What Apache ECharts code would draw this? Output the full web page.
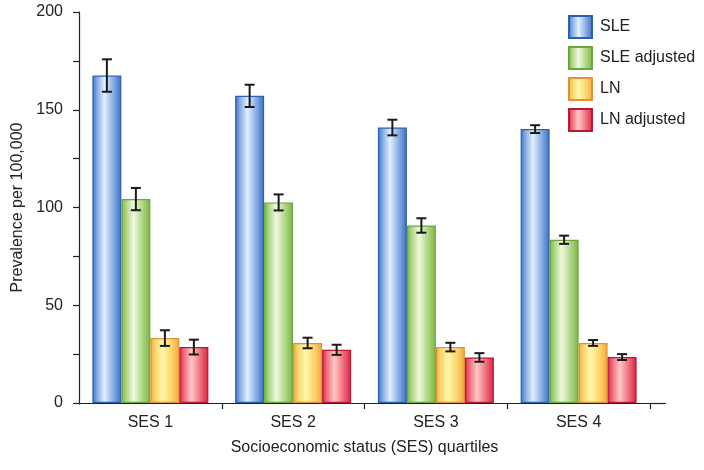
<!DOCTYPE html>
<html>
<head>
<meta charset="utf-8">
<script src="https://cdn.jsdelivr.net/npm/echarts@6/dist/echarts.min.js"></script>
<style>html,body{margin:0;padding:0;background:#fff}#c{width:704px;height:470px}</style>
</head>
<body>
<div id="c"></div>
<script>
var categories = ['SES 1', 'SES 2', 'SES 3', 'SES 4'];
var seriesNames = ['SLE', 'SLE adjusted', 'LN', 'LN adjusted'];
var sle = [167.5, 157.1, 140.9, 140.1];
var sleErr = [8.3, 5.7, 4.0, 2.0];
var sleAdj = [104.3, 102.6, 90.8, 83.5];
var sleAdjErr = [5.7, 4.1, 3.7, 2.1];
var ln = [33.2, 30.7, 28.6, 30.7];
var lnErr = [4.0, 2.7, 2.2, 1.5];
var lnAdj = [28.6, 27.2, 23.3, 23.5];
var lnAdjErr = [3.8, 2.6, 2.2, 1.5];
var yTicks = [0, 50, 100, 150, 200];

var values = [sle, sleAdj, ln, lnAdj];
var errors = [sleErr, sleAdjErr, lnErr, lnAdjErr];

var palettes = [
  {dark: '#3a6ec0', mid: '#7fa7e0', light: '#e0f0ff', border: '#2c61b2'},
  {dark: '#7bb446', mid: '#a9d37c', light: '#eff8e3', border: '#6aa63b'},
  {dark: '#f3a638', mid: '#fbd26a', light: '#fff7aa', border: '#e0923a'},
  {dark: '#d8223e', mid: '#ee6878', light: '#ffc8c6', border: '#bb1736'}
];
function grad(p) {
  return new echarts.graphic.LinearGradient(0, 0, 1, 0, [
    {offset: 0, color: p.dark},
    {offset: 0.15, color: p.mid},
    {offset: 0.42, color: p.light},
    {offset: 0.75, color: p.mid},
    {offset: 1, color: p.dark}
  ]);
}

var BAR_W = 29;
var series = [];
seriesNames.forEach(function (name, s) {
  series.push({
    name: name,
    type: 'bar',
    data: values[s],
    barWidth: BAR_W,
    barGap: '0%',
    itemStyle: {color: grad(palettes[s]), borderColor: palettes[s].border, borderWidth: 1.2},
    emphasis: {disabled: true}
  });
});
var errData = [];
values.forEach(function (arr, s) {
  arr.forEach(function (v, i) { errData.push([i, v, errors[s][i], s]); });
});
series.push({
  type: 'custom',
  name: 'err',
  data: errData,
  encode: {x: 0, y: 1},
  z: 10,
  silent: true,
  renderItem: function (params, api) {
    var i = api.value(0), v = api.value(1), e = api.value(2), s = api.value(3);
    var off = (s - 1.5) * BAR_W;
    var hi = api.coord([i, v + e]);
    var lo = api.coord([i, v - e]);
    var x = hi[0] + off;
    var cap = 5;
    var st = {stroke: '#1a1a1a', lineWidth: 2};
    return {
      type: 'group',
      children: [
        {type: 'line', shape: {x1: x, y1: hi[1], x2: x, y2: lo[1]}, style: st},
        {type: 'line', shape: {x1: x - cap, y1: hi[1], x2: x + cap, y2: hi[1]}, style: st},
        {type: 'line', shape: {x1: x - cap, y1: lo[1], x2: x + cap, y2: lo[1]}, style: st}
      ]
    };
  }
});

var font = 'Liberation Sans, Arial, Helvetica, sans-serif';
var chart = echarts.init(document.getElementById('c'), null, {renderer: 'canvas'});
chart.setOption({
  animation: false,
  textStyle: {fontFamily: font},
  grid: {left: 79, right: 54, top: 12, bottom: 67, containLabel: false},
  legend: {
    data: seriesNames,
    orient: 'vertical',
    left: 563,
    top: 10,
    itemWidth: 23,
    itemHeight: 22,
    itemGap: 7,
    icon: 'rect',
    textStyle: {fontSize: 16, color: '#222', fontFamily: font, padding: [0, 0, 0, 3]},
    selectedMode: false
  },
  xAxis: {
    type: 'category',
    data: categories,
    name: 'Socioeconomic status (SES) quartiles',
    nameLocation: 'middle',
    nameGap: 37,
    nameTextStyle: {fontSize: 16, color: '#222'},
    axisLine: {lineStyle: {color: '#222', width: 1.2}},
    axisTick: {show: true, interval: 0, length: 6, lineStyle: {color: '#222', width: 1.2}},
    axisLabel: {fontSize: 16, color: '#222', margin: 12}
  },
  yAxis: {
    type: 'value',
    min: 0,
    max: 200,
    interval: 25,
    name: 'Prevalence per 100,000',
    nameLocation: 'middle',
    nameGap: 52,
    nameTextStyle: {fontSize: 16, color: '#222'},
    axisLine: {show: true, lineStyle: {color: '#222', width: 1.2}},
    axisTick: {show: true, length: 6, lineStyle: {color: '#222', width: 1.2}},
    splitLine: {show: false},
    axisLabel: {
      fontSize: 16, color: '#222', margin: 16,
      formatter: function (v) { return yTicks.indexOf(v) >= 0 ? String(v) : ''; }
    }
  },
  graphic: [{
    type: 'line',
    z: 100,
    shape: {x1: 650, y1: 403.5, x2: 666, y2: 403.5},
    style: {stroke: '#222', lineWidth: 1.2}
  }, {
    type: 'rect',
    z: 100,
    shape: {x: 78, y: 404.5, width: 3, height: 7},
    style: {fill: '#fff'}
  }],
  series: series
});
</script>
</body>
</html>
